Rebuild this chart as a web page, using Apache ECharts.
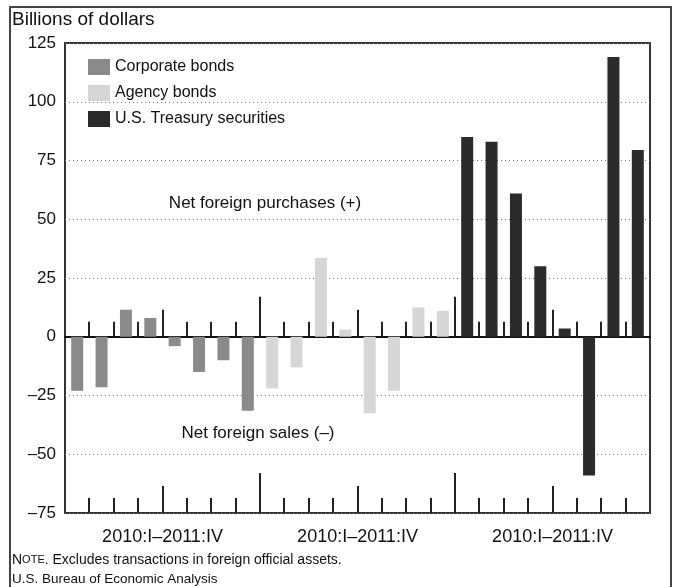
<!DOCTYPE html>
<html>
<head>
<meta charset="utf-8">
<script src="https://cdn.jsdelivr.net/npm/echarts@6/dist/echarts.min.js"></script>
<style>
  html, body { margin: 0; padding: 0; background: #fff; }
  #chart { width: 674px; height: 587px; }
</style>
</head>
<body>
<div id="chart"></div>
<script>
// quarters 2010:I - 2011:IV, repeated for each bond type
const quarters = ['2010:I', '2010:II', '2010:III', '2010:IV', '2011:I', '2011:II', '2011:III', '2011:IV'];
const groupLabels = ['2010:I\u20132011:IV', '2010:I\u20132011:IV', '2010:I\u20132011:IV'];
const corporate = [-23, -21.5, 11.5, 8, -4, -15, -10, -31.5];
const agency = [-22, -13, 33.5, 3, -32.5, -23, 12.5, 11];
const treasury = [85, 83, 61, 30, 3.5, -59, 119, 79.5];
// tick levels at the boundaries between slots 1..23 (1 quarter, 2 year, 3 group)
const tickLevels = [1, 1, 1, 2, 1, 1, 1, 3, 1, 1, 1, 2, 1, 1, 1, 3, 1, 1, 1, 2, 1, 1, 1];

const empty = [null, null, null, null, null, null, null, null];
const categories = quarters.concat(quarters, quarters).map((q, i) => i + ':' + q);
const font = "'Liberation Sans', Arial, sans-serif";

const chart = echarts.init(document.getElementById('chart'));

const tickLen = { 1: 15, 2: 27, 3: 40 };
function renderTick(params, api) {
  const k = api.value(0);
  const level = api.value(1);
  const band = api.size([1, 0])[0];
  const p0 = api.coord([k, 0]);
  const pb = api.coord([k, -75]);
  const x = Math.round(p0[0] - band / 2);
  const len = tickLen[level];
  const style = { stroke: '#222', lineWidth: 2 };
  return {
    type: 'group',
    children: [
      { type: 'line', shape: { x1: x, y1: p0[1], x2: x, y2: p0[1] - len }, style: style },
      { type: 'line', shape: { x1: x, y1: pb[1], x2: x, y2: pb[1] - len }, style: style }
    ]
  };
}

const option = {
  backgroundColor: '#fff',
  animation: false,
  textStyle: { fontFamily: font },
  grid: {
    left: 65, right: 24, top: 43, bottom: 74,
    show: true, borderColor: '#333', borderWidth: 2
  },
  legend: {
    orient: 'vertical',
    left: 83, top: 54,
    icon: 'rect',
    itemWidth: 22, itemHeight: 16, itemGap: 10,
    textStyle: { fontSize: 16, color: '#111', fontFamily: font },
    data: ['Corporate bonds', 'Agency bonds', 'U.S. Treasury securities']
  },
  xAxis: [{
    type: 'category',
    data: categories,
    axisLine: { onZero: true, lineStyle: { color: '#111', width: 2 } },
    axisTick: { show: false },
    axisLabel: { show: false },
    splitLine: { show: false }
  }, {
    type: 'category',
    data: groupLabels,
    position: 'bottom',
    axisLine: { show: false, onZero: false },
    axisTick: { show: false },
    axisLabel: { fontSize: 18, color: '#111', margin: 15, fontFamily: font },
    splitLine: { show: false }
  }],
  yAxis: {
    type: 'value',
    min: -75, max: 125, interval: 25,
    axisLine: { show: false },
    axisTick: { show: false },
    axisLabel: {
      fontSize: 17, color: '#111', margin: 9, fontFamily: font,
      formatter: v => String(v).replace('-', '\u2013')
    },
    splitLine: { lineStyle: { color: '#777', type: [1, 3], width: 1 } }
  },
  series: [{
    name: 'Corporate bonds',
    type: 'bar',
    barWidth: 12,
    barGap: '-100%',
    itemStyle: { color: '#8a8a8a' },
    data: corporate.concat(empty, empty),
    z: 3
  }, {
    name: 'Agency bonds',
    type: 'bar',
    barWidth: 12,
    barGap: '-100%',
    itemStyle: { color: '#d6d6d6' },
    data: empty.concat(agency, empty),
    z: 3
  }, {
    name: 'U.S. Treasury securities',
    type: 'bar',
    barWidth: 12,
    barGap: '-100%',
    itemStyle: { color: '#2b2b2b' },
    data: empty.concat(empty, treasury),
    z: 3
  }, {
    type: 'custom',
    renderItem: renderTick,
    clip: false,
    silent: true,
    data: tickLevels.map((lv, i) => [i + 1, lv]),
    z: 2
  }],
  graphic: [
    { type: 'rect', shape: { x: 10, y: 7, width: 661, height: 600 }, style: { fill: null, stroke: '#444', lineWidth: 2 }, silent: true },
    { type: 'text', left: 12, top: 10, style: { text: 'Billions of dollars', font: '19px ' + font, fill: '#111' } },
    { type: 'text', x: 265, y: 203, style: { text: 'Net foreign purchases (+)', font: '17px ' + font, fill: '#111', align: 'center', verticalAlign: 'middle' } },
    { type: 'text', x: 258, y: 433, style: { text: 'Net foreign sales (\u2013)', font: '17px ' + font, fill: '#111', align: 'center', verticalAlign: 'middle' } },
    {
      type: 'text', x: 12, y: 560,
      style: {
        text: '{a|N}{b|OTE}{a|. Excludes transactions in foreign official assets.}',
        verticalAlign: 'middle',
        rich: {
          a: { fontSize: 14, fontFamily: font, fill: '#111' },
          b: { fontSize: 11, fontFamily: font, fill: '#111' }
        }
      }
    },
    { type: 'text', x: 12, y: 579, style: { text: 'U.S. Bureau of Economic Analysis', font: '13.5px ' + font, fill: '#111', verticalAlign: 'middle' } }
  ]
};

chart.setOption(option);
</script>
</body>
</html>
